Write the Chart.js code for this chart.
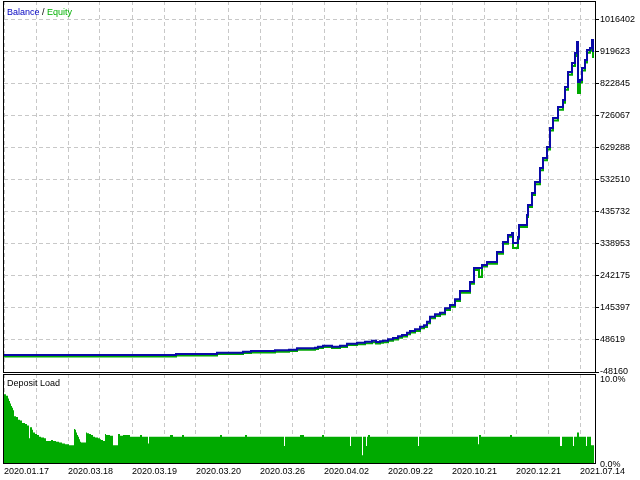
<!DOCTYPE html>
<html>
<head>
<meta charset="utf-8">
<script src="https://cdn.jsdelivr.net/npm/chart.js@4.4.1/dist/chart.umd.min.js"></script>
<style>
  html, body { margin: 0; padding: 0; background: #fff; }
  #wrap { position: relative; width: 640px; height: 480px; overflow: hidden; font-family: 'Liberation Sans', Arial, sans-serif; font-size: 9px; }
  canvas { position: absolute; left: 0; }
  #main { top: 0; }
  #load { top: 373px; }
  .lbl { position: absolute; left: 7px; line-height: 10px; white-space: nowrap; }
</style>
</head>
<body>
<div id="wrap">
  <canvas id="main" width="640" height="380"></canvas>
  <canvas id="load" width="640" height="107"></canvas>
  <div class="lbl" style="top:7px"><span style="color:#0000c0">Balance</span> / <span style="color:#00b000">Equity</span></div>
  <div class="lbl" style="top:378px;color:#000">Deposit Load</div>
</div>
<script>
// deal number -> balance / equity
const deal = [0, 172, 213, 239, 247, 271, 285, 293, 311, 314,
  319, 328, 336, 343, 353, 361, 368, 372, 376, 379,
  384, 389, 394, 398, 403, 406, 411, 416, 420, 423,
  426, 431, 436, 441, 446, 451, 456, 466, 470, 475,
  478, 483, 493, 499, 504, 508, 509, 514, 515, 523,
  524, 528, 531, 536, 539, 543, 546, 549, 554, 559,
  561, 564, 568, 571, 573, 574, 576, 578, 581, 583,
  586, 588, 589];
const balance = [3200, 6200, 10100, 13200, 15300, 17400, 19200, 23400, 25200, 28300,
  31300, 28300, 31300, 37300, 40300, 43400, 46400, 42400, 44600, 46400,
  50600, 54500, 59700, 63600, 70500, 75700, 80800, 88700, 92900, 103800,
  118900, 126100, 130900, 144200, 154200, 171400, 196500, 223600, 265900, 265900,
  275100, 284000, 314200, 344400, 365600, 371600, 341400, 359500, 395800, 426000,
  456200, 492400, 525600, 567900, 598100, 631300, 688700, 718900, 752100, 773300,
  812500, 857800, 885000, 915200, 948400, 827600, 833700, 869900, 894100, 924300,
  930300, 954500, 918200];
const equity = [-1000, 2000, 6000, 9000, 11000, 13000, 15000, 19000, 21000, 24000,
  27000, 24000, 27000, 33000, 36000, 39000, 42000, 38000, 40000, 42000,
  46000, 50000, 55000, 59000, 66000, 71000, 76000, 84000, 88000, 99000,
  114000, 121000, 126000, 139000, 149000, 166000, 191000, 218000, 260000, 238700,
  270000, 279000, 309000, 339000, 360000, 366000, 326300, 354000, 390000, 420000,
  450000, 486000, 519000, 561000, 591000, 624000, 681000, 711000, 744000, 765000,
  804000, 849000, 876000, 906000, 939000, 794400, 826000, 862000, 886000, 916000,
  922000, 945000, 900100];

// deposit load, %
const loadDeal = [0, 2, 4, 5, 6, 7, 8, 9, 10, 12, 14, 16, 18, 21, 23, 25, 26, 28, 29, 31,
  33, 35, 37, 40, 42, 47, 49, 52, 55, 58, 61, 65, 70, 71, 72, 73, 74, 75, 76, 77,
  82, 83, 85, 87, 89, 91, 94, 96, 97, 99, 101, 102, 106, 109, 114, 116, 119, 126, 136, 138,
  144, 145, 166, 169, 178, 180, 216, 218, 241, 243, 280, 281, 296, 300, 318, 320, 346, 347, 358, 359,
  362, 363, 364, 366, 414, 415, 474, 475, 477, 506, 508, 556, 558, 569, 570, 573, 575, 582, 583, 587,
  590];
const load = [8.1, 7.9, 7.6, 7.3, 7.0, 6.7, 6.5, 6.2, 5.5, 5.4, 5.1, 5.0, 4.7, 4.6, 4.4, 2.9, 4.2, 3.9, 3.6, 3.4,
  3.3, 3.1, 3.0, 2.9, 2.6, 2.7, 2.6, 2.5, 2.4, 2.3, 2.2, 2.1, 4.0, 3.9, 3.6, 3.3, 3.1, 2.8, 2.5, 2.4,
  3.6, 3.5, 3.4, 3.3, 3.1, 3.0, 2.9, 2.8, 2.7, 2.6, 3.4, 3.3, 3.2, 2.1, 3.4, 3.2, 3.3, 3.1, 3.3, 3.1,
  2.3, 3.1, 3.3, 3.1, 3.3, 3.1, 3.3, 3.1, 3.3, 3.1, 2.0, 3.1, 3.3, 3.1, 3.3, 3.1, 2.0, 3.1, 0.9, 3.1,
  2.0, 3.1, 3.3, 3.1, 2.0, 3.1, 2.2, 3.3, 3.1, 3.3, 3.1, 2.0, 3.1, 2.0, 3.1, 3.6, 3.1, 2.0, 3.1, 2.1,
  2.1];

const yTicks = [-48160, 48619, 145397, 242175, 338953, 435732, 532510, 629288, 726067, 822845, 919623, 1016402];
const loadTicks = [0, 10];
const dateTicks = ['2020.01.17', '2020.03.18', '2020.03.19', '2020.03.20', '2020.03.26',
  '2020.04.02', '2020.09.22', '2020.10.21', '2020.12.21', '2021.07.14'];

const lastDeal = 591;
const yMin = -48160, yMax = 1072000;
const loadMax = 10.47;

Chart.defaults.font.family = "'Liberation Sans', Arial, sans-serif";
Chart.defaults.font.size = 9;
Chart.defaults.color = '#000';

const gridColor = '#c8c8c8';
const dash = [4, 3];

// black box round the plot area
const frame = {
  id: 'frame',
  afterDraw(chart) {
    const a = chart.chartArea, c = chart.ctx;
    c.save();
    c.strokeStyle = '#000';
    c.lineWidth = 1;
    c.strokeRect(a.left - 0.5, a.top + 0.5, a.right - a.left + 1, a.bottom - a.top);
    c.restore();
  }
};

function noPad(s) {
  s.paddingTop = 0; s.paddingBottom = 0; s.paddingLeft = 0; s.paddingRight = 0;
}

const common = {
  responsive: false,
  animation: false,
  devicePixelRatio: 1,
  plugins: { legend: { display: false }, tooltip: { enabled: false } },
};

new Chart(document.getElementById('main'), {
  type: 'line',
  data: {
    datasets: [
      { data: deal.map((d, i) => ({ x: d, y: balance[i] })), borderColor: '#0a0aa8', borderWidth: 2, stepped: true, pointRadius: 0 },
      { data: deal.map((d, i) => ({ x: d, y: equity[i] })), borderColor: '#00a800', borderWidth: 2, stepped: true, pointRadius: 0 },
    ],
  },
  options: {
    ...common,
    layout: { padding: { left: 4, top: 1, right: 0, bottom: 8 } },
    scales: {
      x: {
        type: 'linear', min: 0, max: lastDeal,
        ticks: { display: false, stepSize: 32, includeBounds: false },
        grid: { color: gridColor, drawTicks: false },
        border: { display: false, dash: dash },
        afterFit(s) { s.height = 0; noPad(s); },
      },
      y: {
        position: 'right', min: yMin, max: yMax,
        afterBuildTicks(s) { s.ticks = yTicks.map(v => ({ value: v })); },
        ticks: { padding: 1, autoSkip: false, callback: v => String(v) },
        grid: { color: gridColor, tickColor: '#000', tickLength: 4 },
        border: { display: false, dash: dash },
        afterFit(s) { s.width = 45; noPad(s); },
      },
    },
  },
  plugins: [frame],
});

new Chart(document.getElementById('load'), {
  type: 'line',
  data: {
    datasets: [{
      data: loadDeal.map((d, i) => ({ x: d, y: load[i] })),
      stepped: true, fill: 'origin', backgroundColor: '#00aa00',
      borderColor: 'rgba(0,0,0,0)', borderWidth: 0, pointRadius: 0,
    }],
  },
  options: {
    ...common,
    layout: { padding: { left: 4, top: 1, right: 0, bottom: 0 } },
    scales: {
      x: {
        type: 'linear', min: 0, max: lastDeal,
        ticks: {
          stepSize: 32, includeBounds: false, autoSkip: false, maxRotation: 0, align: 'start', padding: 3,
          callback: v => (v % 64 === 0 ? dateTicks[v / 64] : ''),
        },
        grid: { color: gridColor, drawTicks: false },
        border: { display: false, dash: dash },
        afterFit(s) { s.height = 17; noPad(s); },
      },
      y: {
        position: 'right', min: 0, max: loadMax,
        afterBuildTicks(s) { s.ticks = loadTicks.map(v => ({ value: v })); },
        ticks: { padding: 5, labelOffset: 2, callback: v => v.toFixed(1) + '%' },
        grid: { display: false, drawTicks: false },
        border: { display: false },
        afterFit(s) { s.width = 45; noPad(s); },
      },
    },
  },
  plugins: [frame],
});
</script>
</body>
</html>
